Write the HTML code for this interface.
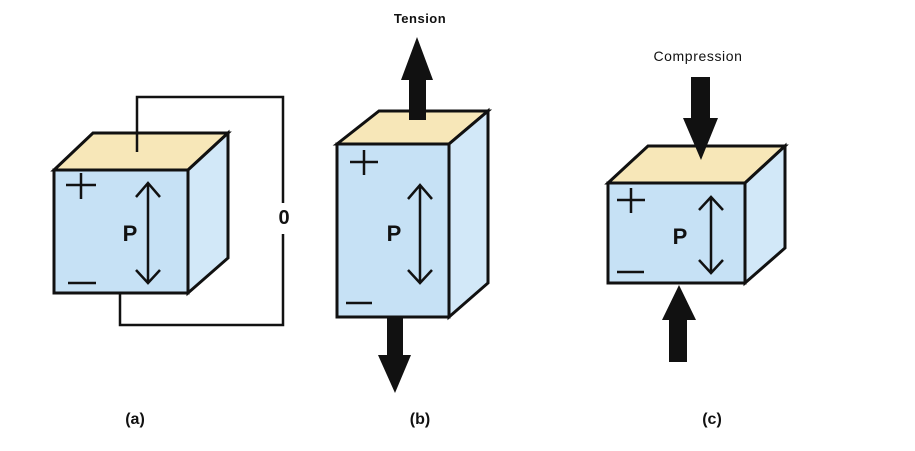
<!DOCTYPE html>
<html><head><style>html,body{margin:0;padding:0;background:#fff;width:915px;height:451px;overflow:hidden}</style></head>
<body>
<svg width="915" height="451" viewBox="0 0 915 451" xmlns="http://www.w3.org/2000/svg" font-family="Liberation Sans, Arial, sans-serif">
<g stroke="#111" stroke-width="3" stroke-linejoin="miter">
<polygon points="54,170 93,133 228,133 188,170" fill="#f7e7b8"/>
<polygon points="188,170 228,133 228,258 188,293" fill="#d2e8f8"/>
<rect x="54" y="170" width="134" height="123" fill="#c6e1f5"/>
<polygon points="337,144 379,111 488,111 449,144" fill="#f7e7b8"/>
<polygon points="449,144 488,111 488,283 449,317" fill="#d2e8f8"/>
<rect x="337" y="144" width="112" height="173" fill="#c6e1f5"/>
<polygon points="608,183 648,146 785,146 745,183" fill="#f7e7b8"/>
<polygon points="745,183 785,146 785,248 745,283" fill="#d2e8f8"/>
<rect x="608" y="183" width="137" height="100" fill="#c6e1f5"/>
</g>
<g fill="none" stroke="#111" stroke-width="2.5">
<polyline points="137,152 137,97 283,97 283,203"/>
<polyline points="283,234 283,325 120,325 120,293"/>
<path d="M66,185 H96 M81,173 V199 M68,283 H96"/>
<path d="M350,162 H378 M364,150 V175 M346,303 H372"/>
<path d="M617,200 H645 M631,188 V213 M617,272 H644"/>
<path d="M148,183 V283 M136,197 L148,183 L160,197 M136,270 L148,283 L160,270"/>
<path d="M420,185 V283 M408,199 L420,185 L432,199 M408,270 L420,283 L432,270"/>
<path d="M711,197 V273 M699,210 L711,197 L723,210 M699,260 L711,273 L723,260"/>
</g>
<g fill="#111">
<polygon points="409,120 426,120 426,80 433,80 417,37 401,80 409,80"/>
<polygon points="387,317 403,317 403,355 411,355 395,393 378,355 387,355"/>
<polygon points="691,77 710,77 710,118 718,118 701,160 683,118 691,118"/>
<polygon points="669,362 687,362 687,320 696,320 679,285 662,320 669,320"/>
</g>
<g fill="#111" font-weight="bold">
<text x="130" y="241" font-size="22" text-anchor="middle">P</text>
<text x="394" y="241" font-size="22" text-anchor="middle">P</text>
<text x="680" y="244" font-size="22" text-anchor="middle">P</text>
<text x="284" y="224" font-size="20" text-anchor="middle">0</text>
<text x="420" y="23" font-size="13" text-anchor="middle" letter-spacing="0.5">Tension</text>
<text x="698" y="61" font-size="14" text-anchor="middle" letter-spacing="0.6" font-weight="normal">Compression</text>
<text x="135" y="424" font-size="16" text-anchor="middle">(a)</text>
<text x="420" y="424" font-size="16" text-anchor="middle">(b)</text>
<text x="712" y="424" font-size="16" text-anchor="middle">(c)</text>
</g>
</svg>
</body></html>
